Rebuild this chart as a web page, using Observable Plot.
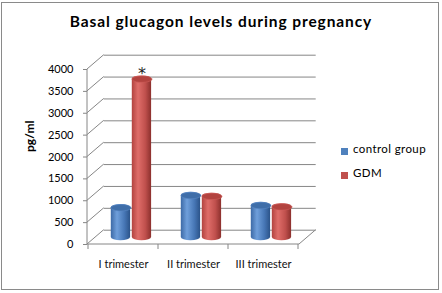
<!DOCTYPE html>
<html>
<head>
<meta charset="utf-8">
<script src="https://cdn.jsdelivr.net/npm/d3@7"></script>
<script src="https://cdn.jsdelivr.net/npm/@observablehq/plot@0.6"></script>
<style>
  html, body { margin: 0; padding: 0; background: #fff; }
  #wrap { position: relative; width: 442px; height: 293px; overflow: hidden; background: #fff; font-family: Lato, "DejaVu Sans", sans-serif; }
  #border { position: absolute; left: 1px; top: 2px; width: 436px; height: 286px; border: 1px solid #8a8a8a; }
  #title { position: absolute; left: 0; top: 12px; width: 442px; text-align: center; font-weight: bold; font-size: 15.5px; color: #000; letter-spacing: 0.9px; }
  #chart { position: absolute; left: 0; top: 0; }
  .leg { position: absolute; left: 341px; font-size: 11.5px; color: #000; white-space: nowrap; letter-spacing: 0.4px; }
  .leg span.sw { position: absolute; left: 0; top: 0; width: 7px; height: 7px; }
  .leg span.lb { position: absolute; left: 12px; top: -6px; }
</style>
</head>
<body>
<div id="wrap">
  <div id="border"></div>
  <div id="chart"></div>
  <div id="title">Basal glucagon levels during pregnancy</div>
  <div id="legend"></div>
</div>
<script>
// ---- data ----
const categories = ["I trimester", "II trimester", "III trimester"];
const controlGroup = [680, 960, 730];
const gdm = [3620, 940, 700];
const seriesNames = ["control group", "GDM"];
const seriesColors = ["#4F81BD", "#C0504D"];
const yTicks = [0, 500, 1000, 1500, 2000, 2500, 3000, 3500, 4000];
const yLabel = "pg/ml";
const markCategory = ["I trimester"];
const markValue = [3620];
const markText = ["*"];

const rows = categories.map((c, i) => ({category: c, control: controlGroup[i], gdm: gdm[i]}));
const stars = markCategory.map((c, i) => ({category: c, value: markValue[i], text: markText[i]}));

// 3D depth offsets (pixels)
const DX = 16.7, DY = -14.3;   // back wall
const MX = 8.3, MY = -7;       // bars at mid depth
const grid = "#868686";

// ellipse symbol for cylinder caps
const ellipse = {
  draw(ctx) {
    const a = 10, b = 3.2, k = 0.5523;
    ctx.moveTo(a, 0);
    ctx.bezierCurveTo(a, b * k, a * k, b, 0, b);
    ctx.bezierCurveTo(-a * k, b, -a, b * k, -a, 0);
    ctx.bezierCurveTo(-a, -b * k, -a * k, -b, 0, -b);
    ctx.bezierCurveTo(a * k, -b, a, -b * k, a, 0);
    ctx.closePath();
  }
};

// decoration: left wall diagonals, tick marks at band edges, floor right edge
function decor(index, scales, values, dimensions) {
  const {x, y} = scales;
  const g = d3.create("svg:g").attr("stroke", grid).attr("fill", "none");
  const x0 = dimensions.marginLeft;
  const x1 = dimensions.width - dimensions.marginRight;
  for (const t of yTicks) {
    g.append("line").attr("x1", x0).attr("y1", y(t)).attr("x2", x0 + DX).attr("y2", y(t) + DY);
  }
  const bw = x(categories[1]) - x(categories[0]);
  const edges = categories.map(c => x(c)).concat([x(categories[categories.length - 1]) + bw]);
  for (const e of edges) {
    g.append("line").attr("x1", e).attr("y1", y(0)).attr("x2", e).attr("y2", y(0) + 5);
  }
  g.append("line").attr("x1", x1).attr("y1", y(0)).attr("x2", x1 + DX).attr("y2", y(0) + DY);
  g.append("line").attr("x1", x0).attr("y1", y(0)).attr("x2", x1).attr("y2", y(0));
  g.append("line").attr("x1", x0).attr("y1", y(yTicks[yTicks.length - 1])).attr("x2", x0).attr("y2", y(0));
  return g.node();
}

const chart = Plot.plot({
  width: 442,
  height: 293,
  marginLeft: 87,
  marginRight: 143,
  marginTop: 69,
  marginBottom: 49,
  x: {domain: categories, padding: 0},
  y: {domain: [0, 4000]},
  style: {fontFamily: "Lato, sans-serif", fontSize: "11px", background: "transparent", color: "#000"},
  marks: [
    Plot.ruleY(yTicks, {stroke: grid, dx: DX, dy: DY}),
    decor,
    Plot.axisY({ticks: yTicks, tickFormat: d3.format("d"), tickSize: 4, tickPadding: 10, label: null, stroke: grid, fill: "#000", letterSpacing: 0.7}),
    Plot.axisX({tickSize: 0, tickPadding: 16, label: null, fill: "#111", letterSpacing: 0.5}),
    Plot.text([yLabel], {frameAnchor: "left", text: d => d, rotate: -90, dx: -57, dy: -5, fontWeight: "bold", fontSize: 12}),
    // cylinders: control group
    Plot.barY(rows, {x: "category", y: "control", fill: "url(#gradBlue)", insetLeft: 14.5, insetRight: 36.2, insetTop: -3.2, insetBottom: -3.2, rx: 10, ry: 3.2, dx: MX, dy: MY}),
    Plot.dot(rows, {x: "category", y: "control", symbol: ellipse, fill: "#3f6ea9", stroke: "#5a88c4", strokeWidth: 0.6, dx: MX - 10.8, dy: MY}),
    // cylinders: GDM
    Plot.barY(rows, {x: "category", y: "gdm", fill: "url(#gradRed)", insetLeft: 35.5, insetRight: 15.2, insetTop: -3.2, insetBottom: -3.2, rx: 10, ry: 3.2, dx: MX, dy: MY}),
    Plot.dot(rows, {x: "category", y: "gdm", symbol: ellipse, fill: "#b2433f", stroke: "#cf5e5a", strokeWidth: 0.6, dx: MX + 10.2, dy: MY}),
    Plot.text(stars, {x: "category", y: "value", text: "text", dx: MX + 10.2, dy: -12, fontSize: 16, fontFamily: "DejaVu Sans", fontWeight: "normal", fill: "#222"})
  ]
});

d3.select(chart).insert("defs", ":first-child").html(`
  <linearGradient id="gradBlue" x1="0" x2="1" y1="0" y2="0">
    <stop offset="0" stop-color="#3d6aa6"/>
    <stop offset="0.32" stop-color="#6f9fdb"/>
    <stop offset="0.7" stop-color="#4777b6"/>
    <stop offset="1" stop-color="#2b5389"/>
  </linearGradient>
  <linearGradient id="gradRed" x1="0" x2="1" y1="0" y2="0">
    <stop offset="0" stop-color="#b2433f"/>
    <stop offset="0.32" stop-color="#df6d69"/>
    <stop offset="0.7" stop-color="#c0504d"/>
    <stop offset="1" stop-color="#8c302d"/>
  </linearGradient>`);

document.getElementById("chart").appendChild(chart);

const legend = document.getElementById("legend");
seriesNames.forEach((name, i) => {
  const d = document.createElement("div");
  d.className = "leg";
  d.style.top = (148 + i * 24) + "px";
  d.innerHTML = `<span class="sw" style="background:${seriesColors[i]}"></span><span class="lb">${name}</span>`;
  legend.appendChild(d);
});
</script>
</body>
</html>
